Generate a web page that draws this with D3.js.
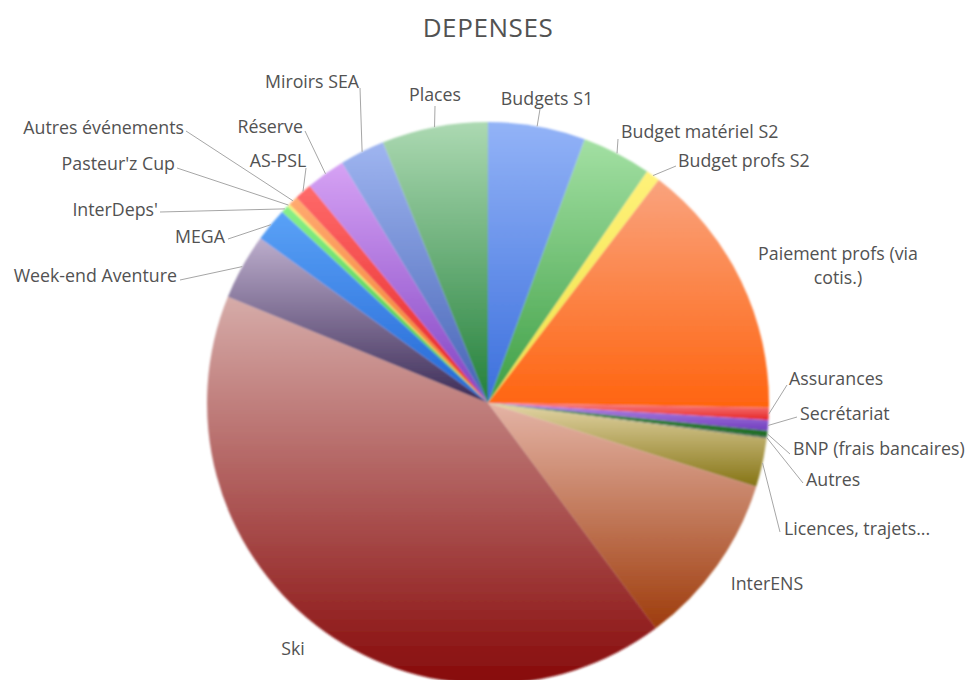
<!DOCTYPE html>
<html>
<head>
<meta charset="utf-8">
<script src="https://cdn.jsdelivr.net/npm/d3@7"></script>
<style>
  body { margin: 0; background: #fff; }
  text { font-family: 'Open Sans', sans-serif; fill: #525252; }
</style>
</head>
<body>
<div id="chart"></div>
<script>
// slices, clockwise from 12 o'clock (share of total, %)
const categories = ['Budgets S1', 'Budget matériel S2', 'Budget profs S2', 'Paiement profs (via cotis.)',
  'Assurances', 'Secrétariat', 'BNP (frais bancaires)', 'Autres', 'Licences, trajets...', 'InterENS',
  'Ski', 'Week-end Aventure', 'MEGA', "InterDeps'", "Pasteur'z Cup", 'Autres événements', 'AS-PSL',
  'Réserve', 'Miroirs SEA', 'Places']
const values = [5.6, 4.0, 0.8, 14.9, 0.7, 0.6, 0.35, 0.1, 2.8, 10.0,
  41.4, 3.8, 1.95, 0.45, 0.15, 0.55, 1.0, 2.25, 2.6, 6.1]

// gradient colours: light (top of slice) -> dark (bottom of slice)
const topColors = ['#93b3f7', '#a3e0a3', '#fff27a', '#f9a37e', '#f98080', '#b68ae4', '#3f8c45', '#7c9c8a', '#e3d5a6', '#e4b4a6',
  '#d6aca9', '#bcadcc', '#5aa2f7', '#88f088', '#f7f07a', '#ffaa70', '#ff6a6a', '#d6a2f4', '#9fb5f0', '#acd9b2']
const bottomColors = ['#3b6fdc', '#3d9e44', '#efe046', '#ff640f', '#e42424', '#6f3dbe', '#1f6a25', '#506c5e', '#857414', '#9e3c0c',
  '#870a0a', '#3a2a55', '#2366d4', '#3cbc3c', '#e8da3c', '#f07a28', '#e32424', '#8042c2', '#4462b4', '#23803a']

// label placement: text position, anchor, leader line start (null = no leader)
const labelLayout = [
  { x: 547, y: 98, anchor: 'middle', lead: [540, 109] },
  { x: 621, y: 131, anchor: 'start', lead: [618, 139] },
  { x: 678, y: 160, anchor: 'start', lead: [676, 166] },
  { x: 838, y: 253, anchor: 'middle', lead: null, lines: ['Paiement profs (via', 'cotis.)'] },
  { x: 789, y: 378, anchor: 'start', lead: [787, 385] },
  { x: 800, y: 413, anchor: 'start', lead: [797, 417] },
  { x: 793, y: 448, anchor: 'start', lead: [790, 454] },
  { x: 806, y: 479, anchor: 'start', lead: [803, 483] },
  { x: 784, y: 528, anchor: 'start', lead: [780, 532] },
  { x: 767, y: 583, anchor: 'middle', lead: null },
  { x: 293, y: 648, anchor: 'middle', lead: null },
  { x: 177, y: 275, anchor: 'end', lead: [180, 280] },
  { x: 225, y: 236, anchor: 'end', lead: [228, 239] },
  { x: 158, y: 209, anchor: 'end', lead: [160, 212] },
  { x: 175, y: 163, anchor: 'end', lead: [177, 168] },
  { x: 184, y: 127, anchor: 'end', lead: [186, 131] },
  { x: 278, y: 160, anchor: 'middle', lead: [306, 168] },
  { x: 303, y: 126, anchor: 'end', lead: [305, 131] },
  { x: 312, y: 81, anchor: 'middle', lead: [360, 88] },
  { x: 435, y: 94, anchor: 'middle', lead: [435, 106] }
]

const width = 967
const height = 680
const cx = 488
const cy = 403
const radius = 281

const svg = d3.select('#chart')
  .append('svg')
  .attr('width', width)
  .attr('height', height)

const defs = svg.append('defs')

categories.forEach((c, i) => {
  const g = defs.append('linearGradient')
    .attr('id', 'grad' + i)
    .attr('x1', 0).attr('y1', 0)
    .attr('x2', 0).attr('y2', 1)
  g.append('stop').attr('offset', '0%').attr('stop-color', topColors[i])
  g.append('stop').attr('offset', '100%').attr('stop-color', bottomColors[i])
})

const soft = defs.append('filter').attr('id', 'soft')
  .attr('x', '-5%').attr('y', '-5%').attr('width', '110%').attr('height', '110%')
soft.append('feGaussianBlur').attr('in', 'SourceGraphic').attr('stdDeviation', 0.8)

svg.append('text')
  .attr('x', cx)
  .attr('y', 37)
  .attr('text-anchor', 'middle')
  .style('font-size', '26px')
  .style('letter-spacing', '0.6px')
  .text('DEPENSES')

const pie = d3.pie()
  .sort(null)
  .value(d => d)

const arcs = pie(values)

const arc = d3.arc()
  .innerRadius(0)
  .outerRadius(radius)

const chart = svg.append('g')
  .attr('transform', 'translate(' + cx + ',' + cy + ')')

chart.append('g')
  .attr('filter', 'url(#soft)')
  .selectAll('path')
  .data(arcs)
  .enter()
  .append('path')
  .attr('d', arc)
  .attr('fill', (d, i) => 'url(#grad' + i + ')')

// leader lines go from the label to the outer edge at the slice's mid angle
const edgePoint = d => {
  const a = (d.startAngle + d.endAngle) / 2
  return [cx + radius * Math.sin(a), cy - radius * Math.cos(a)]
}

svg.append('g')
  .selectAll('polyline')
  .data(arcs.filter((d, i) => labelLayout[i].lead))
  .enter()
  .append('polyline')
  .attr('points', d => {
    const lead = labelLayout[d.index].lead
    return [lead, edgePoint(d)].map(p => p.join(',')).join(' ')
  })
  .attr('fill', 'none')
  .attr('stroke', '#a6a6a6')
  .attr('stroke-width', 1)

const labels = svg.append('g')
  .selectAll('text')
  .data(categories)
  .enter()
  .append('text')
  .attr('x', (d, i) => labelLayout[i].x)
  .attr('y', (d, i) => labelLayout[i].y)
  .attr('text-anchor', (d, i) => labelLayout[i].anchor)
  .attr('dominant-baseline', 'central')
  .style('font-size', '17.8px')

labels.each(function (d, i) {
  const lines = labelLayout[i].lines
  const t = d3.select(this)
  if (lines) {
    lines.forEach((l, j) => {
      t.append('tspan')
        .attr('x', labelLayout[i].x)
        .attr('dy', j === 0 ? 0 : 24)
        .text(l)
    })
  } else {
    t.text(d)
  }
})
</script>
</body>
</html>
